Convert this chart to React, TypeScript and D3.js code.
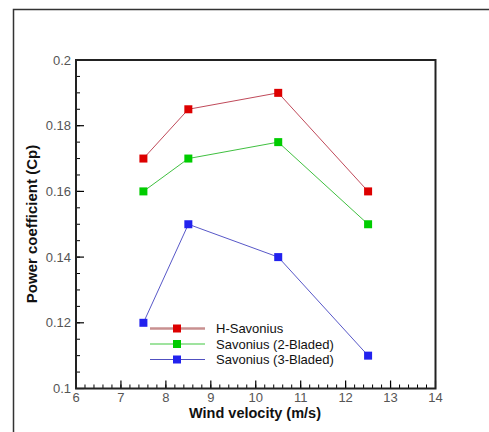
import React from "react";
import * as d3 from "d3";

const windSpeeds = [7.5, 8.5, 10.5, 12.5];
const hSavonius = [0.17, 0.185, 0.19, 0.16];
const savonius2 = [0.16, 0.17, 0.175, 0.15];
const savonius3 = [0.12, 0.15, 0.14, 0.11];
const seriesNames = ["H-Savonius", "Savonius (2-Bladed)", "Savonius (3-Bladed)"];
const xTicks = [6, 7, 8, 9, 10, 11, 12, 13, 14];
const yTicks = [0.1, 0.12, 0.14, 0.16, 0.18, 0.2];

const W = 489, H = 432;
const left = 76, right = 435.5, top = 60, bottom = 388.5;

export default function App() {
  const x = d3.scaleLinear().domain([6, 14]).range([left, right]);
  const y = d3.scaleLinear().domain([0.1, 0.2]).range([bottom, top]);
  const series = [
    { name: seriesNames[0], values: hSavonius, line: "#c04a5a", fill: "#dd0000", legendLine: "#c89090", lw: 2.5 },
    { name: seriesNames[1], values: savonius2, line: "#40c040", fill: "#00cc00", legendLine: "#40c840", lw: 1.2 },
    { name: seriesNames[2], values: savonius3, line: "#5858c8", fill: "#2222ee", legendLine: "#5050c0", lw: 1.2 },
  ];
  const line = d3.line<[number, number]>().x(d => x(d[0])).y(d => y(d[1]));
  const xMinor = d3.range(6, 14.001, 0.2);
  const yMinor = d3.range(0.1, 0.2001, 0.005);
  const ms = 8;
  const legendY = [328.5, 344, 359.5];
  return (
    <svg width={W} height={H} style={{ position: "absolute", left: 0, top: 0, background: "#fff" }}
      fontFamily="Arial, 'Liberation Sans', sans-serif">
      <rect x={0} y={0} width={W} height={H} fill="#fff" />
      <path d={`M13.5,${H} V9.5 H${W}`} fill="none" stroke="#333" strokeWidth={1.5} />
      {xMinor.map((v, i) => (
        <line key={"xm" + i} x1={x(v)} x2={x(v)} y1={bottom} y2={bottom - 4} stroke="#000" strokeWidth={1} />
      ))}
      {xTicks.map(v => (
        <line key={"xM" + v} x1={x(v)} x2={x(v)} y1={bottom} y2={bottom - 8} stroke="#000" strokeWidth={1.2} />
      ))}
      {yMinor.map((v, i) => (
        <line key={"ym" + i} x1={left} x2={left + 4} y1={y(v)} y2={y(v)} stroke="#000" strokeWidth={1} />
      ))}
      {yTicks.map(v => (
        <line key={"yM" + v} x1={left} x2={left + 8} y1={y(v)} y2={y(v)} stroke="#000" strokeWidth={1.2} />
      ))}
      <rect x={left} y={top} width={right - left} height={bottom - top} fill="none" stroke="#222" strokeWidth={2} />
      {xTicks.map(v => (
        <text key={"xl" + v} x={x(v)} y={bottom + 13.5} textAnchor="middle" fontSize={13} fill="#555">{v}</text>
      ))}
      {yTicks.map(v => (
        <text key={"yl" + v} x={left - 5} y={y(v) + 4.5} textAnchor="end" fontSize={13} fill="#555">{d3.format("")(+v.toFixed(2))}</text>
      ))}
      <text x={255} y={418} textAnchor="middle" fontSize={14.5} fontWeight="bold" fill="#111">Wind velocity (m/s)</text>
      <text transform={`translate(37,224) rotate(-90)`} textAnchor="middle" fontSize={15} fontWeight="bold" fill="#111">Power coefficient (Cp)</text>
      {series.map(s => (
        <g key={s.name}>
          <path d={line(windSpeeds.map((w, i) => [w, s.values[i]] as [number, number])) || ""} fill="none" stroke={s.line} strokeWidth={1} />
          {windSpeeds.map((w, i) => (
            <rect key={i} x={x(w) - ms / 2} y={y(s.values[i]) - ms / 2} width={ms} height={ms} fill={s.fill} />
          ))}
        </g>
      ))}
      {series.map((s, i) => (
        <g key={"lg" + s.name}>
          <line x1={150} x2={205} y1={legendY[i]} y2={legendY[i]} stroke={s.legendLine} strokeWidth={s.lw} />
          <rect x={177 - ms / 2} y={legendY[i] - ms / 2} width={ms} height={ms} fill={s.fill} />
          <text x={216} y={legendY[i] + 4.5} fontSize={13} fill="#111">{s.name}</text>
        </g>
      ))}
    </svg>
  );
}
